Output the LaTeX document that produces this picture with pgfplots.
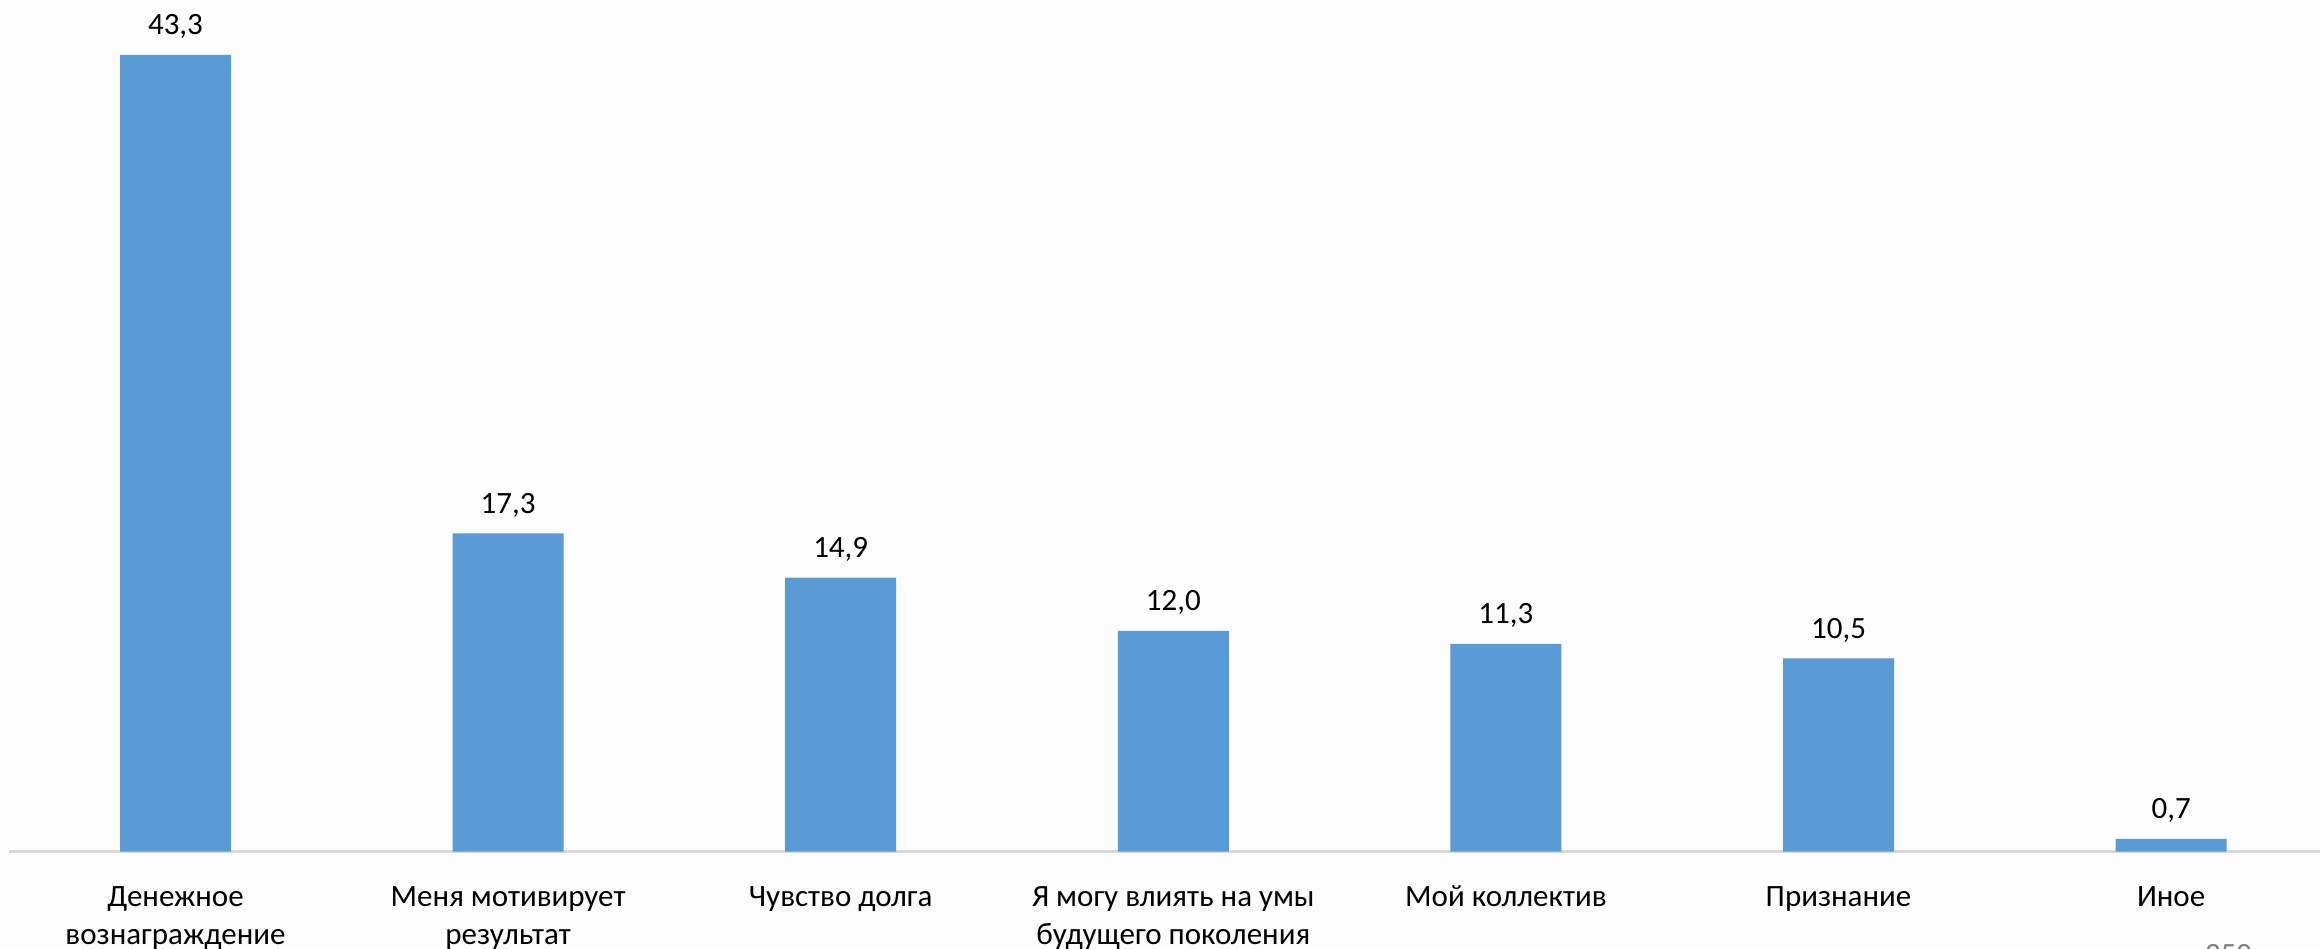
\documentclass[border=0pt]{standalone}
\usepackage{pgfplots}
\pgfplotsset{compat=1.18}
\usepackage{fontspec}
\setmainfont{Carlito}
\definecolor{barblue}{RGB}{91,155,213}
\definecolor{bgc}{RGB}{252,252,252}
\definecolor{axgray}{RGB}{217,217,217}
\begin{document}
\begin{tikzpicture}
\fill[bgc] (0,0) rectangle (1160bp,474.5bp);
\useasboundingbox (0,0) rectangle (1160bp,474.5bp);
\clip (0,0) rectangle (1160bp,474.5bp);
\begin{axis}[
  at={(4.6bp,48.65bp)}, anchor=south west,
  x=166.3bp, y=9.2bp,
  xmin=-0.5, xmax=6.5, ymin=0, ymax=47,
  scale only axis,
  axis x line*=bottom, axis y line=none,
  x axis line style={axgray, line width=1.2bp, -},
  ybar, bar width=55.5bp, bar shift=0pt,
  xtick=data, major tick length=0pt,
  xticklabels={{\strut Денежное\\вознаграждение},{\strut Меня мотивирует\\результат},{\strut Чувство долга},{\strut Я могу влиять на умы\\будущего поколения},{\strut Мой коллектив},{\strut Признание},{\strut Иное}},
  xticklabel style={align=center, font=\fontsize{15.5bp}{19bp}\selectfont, anchor=north, yshift=-13.7bp, inner sep=0pt},
  nodes near coords,
  nodes near coords style={font=\fontsize{15.5bp}{18.6bp}\selectfont, anchor=base, yshift=10bp, inner sep=0pt,
    /pgf/number format/.cd, fixed, fixed zerofill, precision=1, use comma},
  /pgf/number format/assume math mode=true,
  clip=false,
]
\addplot[fill=barblue, draw=none] coordinates {(0,43.3) (1,17.3) (2,14.9) (3,12.0) (4,11.3) (5,10.5) (6,0.7)};
\end{axis}
\node[anchor=base, text=gray, font=\fontsize{15.5bp}{18.6bp}\selectfont, inner sep=0pt] at (1114.2bp,-7.5bp) {350};
\end{tikzpicture}
\end{document}
